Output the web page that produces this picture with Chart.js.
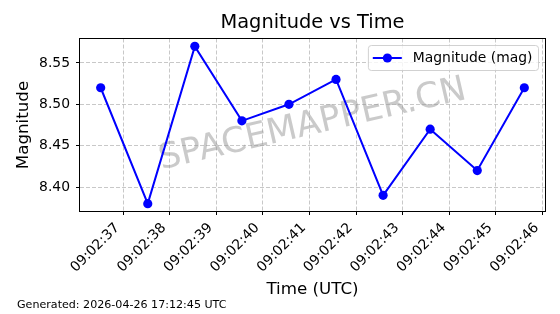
<!DOCTYPE html>
<html>
<head>
<meta charset="utf-8">
<script src="https://cdn.jsdelivr.net/npm/chart.js@4.4.0/dist/chart.umd.min.js"></script>
<style>
html, body { margin: 0; padding: 0; background: #fff; }
canvas { display: block; }
</style>
</head>
<body>
<canvas id="chart" width="560" height="314"></canvas>
<script>
// seconds after 09:02:00 UTC
const timeSeconds = [36.52, 37.53, 38.54, 39.55, 40.56, 41.57, 42.58, 43.59, 44.60, 45.61];
const magnitudes = [8.52, 8.38, 8.57, 8.48, 8.50, 8.53, 8.39, 8.47, 8.42, 8.52];

const xTickSeconds = [37, 38, 39, 40, 41, 42, 43, 44, 45, 46];
const xTickLabels = ['09:02:37', '09:02:38', '09:02:39', '09:02:40', '09:02:41',
                     '09:02:42', '09:02:43', '09:02:44', '09:02:45', '09:02:46'];
const yTicks = [8.40, 8.45, 8.50, 8.55];

const titleText = 'Magnitude vs Time';
const seriesLabel = 'Magnitude (mag)';
const xAxisLabel = 'Time (UTC)';
const yAxisLabel = 'Magnitude';
const footerText = 'Generated: 2026-04-26 17:12:45 UTC';
const watermarkText = 'SPACEMAPPER.CN';

const FONT = '"DejaVu Sans", "Liberation Sans", sans-serif';
const BLUE = '#0000ff';
const GRID = 'rgba(176,176,176,0.7)';

// matplotlib style 5% margins
function withMargin(values) {
    const lo = Math.min(...values), hi = Math.max(...values);
    const m = (hi - lo) * 0.05;
    return [lo - m, hi + m];
}
const [xMin, xMax] = withMargin(timeSeconds);
const [yMin, yMax] = withMargin(magnitudes);

const extras = {
    id: 'extras',
    beforeDatasetsDraw(chart) {
        const { ctx, chartArea: a } = chart;
        ctx.save();
        ctx.translate((a.left + a.right) / 2, (a.top + a.bottom) / 2);
        ctx.rotate(-13 * Math.PI / 180);
        ctx.font = `35px ${FONT}`;
        ctx.fillStyle = 'rgba(150,150,150,0.5)';
        ctx.textAlign = 'center';
        ctx.textBaseline = 'middle';
        ctx.fillText(watermarkText, 0, 0);
        ctx.restore();
    },
    afterDatasetsDraw(chart) {
        const { ctx, chartArea: a } = chart;
        ctx.save();
        // frame
        ctx.strokeStyle = '#000';
        ctx.lineWidth = 1;
        ctx.strokeRect(a.left, a.top, a.right - a.left, a.bottom - a.top);

        // legend
        ctx.font = `13.9px ${FONT}`;
        const tw = ctx.measureText(seriesLabel).width;
        const bw = tw + 50.4, bh = 25;
        const bx = a.right - 7 - bw, by = a.top + 7;
        ctx.beginPath();
        ctx.roundRect(bx, by, bw, bh, 3);
        ctx.fillStyle = 'rgba(255,255,255,0.8)';
        ctx.fill();
        ctx.strokeStyle = 'rgba(204,204,204,0.9)';
        ctx.stroke();
        const cy = by + bh / 2;
        ctx.strokeStyle = BLUE;
        ctx.lineWidth = 2;
        ctx.beginPath();
        ctx.moveTo(bx + 4.4, cy);
        ctx.lineTo(bx + 33.4, cy);
        ctx.stroke();
        ctx.fillStyle = BLUE;
        ctx.beginPath();
        ctx.arc(bx + 19, cy, 4.6, 0, Math.PI * 2);
        ctx.fill();
        ctx.fillStyle = '#000';
        ctx.textAlign = 'left';
        ctx.textBaseline = 'middle';
        ctx.fillText(seriesLabel, bx + 44.4, cy);
        ctx.restore();
    },
    afterDraw(chart) {
        const { ctx, chartArea: a } = chart;
        ctx.save();
        ctx.fillStyle = '#000';
        ctx.textBaseline = 'middle';
        ctx.textAlign = 'center';
        ctx.font = `19.4px ${FONT}`;
        ctx.fillText(titleText, (a.left + a.right) / 2, 23.3);
        ctx.textAlign = 'left';
        ctx.font = `11.1px ${FONT}`;
        ctx.fillText(footerText, 17, 305);
        ctx.restore();
    }
};

const gridOpts = {
    color: GRID,
    tickLength: 3.5,
    tickColor: '#000',
    tickBorderDash: [],
    tickWidth: 1,
};
const borderOpts = { display: true, color: '#000', width: 1, dash: [4, 2] };

new Chart(document.getElementById('chart'), {
    type: 'line',
    data: {
        datasets: [{
            label: seriesLabel,
            data: timeSeconds.map((t, i) => ({ x: t, y: magnitudes[i] })),
            borderColor: BLUE,
            backgroundColor: BLUE,
            borderWidth: 2,
            pointRadius: 4.6,
            pointBorderWidth: 0,
            pointBackgroundColor: BLUE,
            tension: 0,
        }],
    },
    options: {
        responsive: false,
        animation: false,
        devicePixelRatio: 1,
        layout: { padding: { left: 0, right: 14.5, top: 38.5, bottom: 0 } },
        plugins: {
            legend: { display: false },
            title: { display: false },
            tooltip: { enabled: false },
        },
        scales: {
            x: {
                type: 'linear',
                min: xMin,
                max: xMax,
                afterBuildTicks: (scale) => {
                    scale.ticks = xTickSeconds.map(v => ({ value: v }));
                },
                afterFit: (scale) => { scale.height = 102.5; },
                ticks: {
                    autoSkip: false,
                    minRotation: 45,
                    maxRotation: 45,
                    padding: 4.9,
                    labelOffset: -5.7,
                    color: '#000',
                    font: { family: FONT, size: 13.9 },
                    callback: (v) => xTickLabels[xTickSeconds.indexOf(v)] ?? '',
                },
                grid: gridOpts,
                border: borderOpts,
                title: {
                    display: true,
                    text: xAxisLabel,
                    color: '#000',
                    font: { family: FONT, size: 16.7 },
                    padding: { top: 0, bottom: 14.6 },
                },
            },
            y: {
                type: 'linear',
                min: yMin,
                max: yMax,
                afterBuildTicks: (scale) => {
                    scale.ticks = yTicks.map(v => ({ value: v }));
                },
                afterFit: (scale) => { scale.width = 79.5; },
                ticks: {
                    padding: 6,
                    color: '#000',
                    font: { family: FONT, size: 13.9 },
                    callback: (v) => v.toFixed(2),
                },
                grid: gridOpts,
                border: borderOpts,
                title: {
                    display: true,
                    text: yAxisLabel,
                    color: '#000',
                    font: { family: FONT, size: 16.7 },
                    padding: { top: 14, bottom: 0 },
                },
            },
        },
    },
    plugins: [extras],
});
</script>
</body>
</html>
